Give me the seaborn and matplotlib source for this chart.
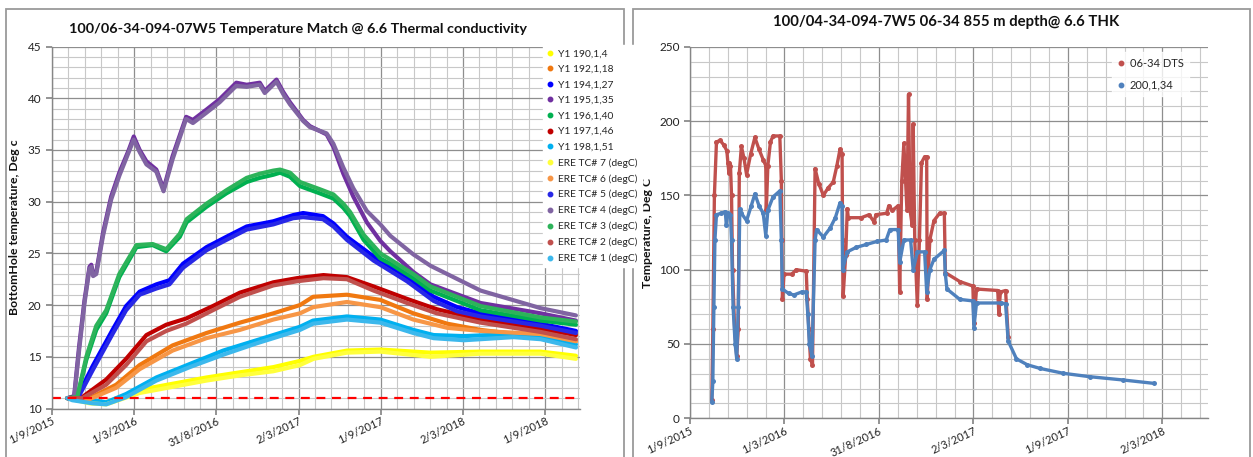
import numpy as np
import pandas as pd
import matplotlib
matplotlib.use("Agg")
import matplotlib.pyplot as plt
import seaborn as sns
from matplotlib.lines import Line2D

sns.set_theme(style="white")
plt.rcParams["font.family"] = ["Lato", "DejaVu Sans"]

# ---------------- LEFT CHART DATA (days since 1/9/2015, deg C) ----------------
left_title = "100/06-34-094-07W5 Temperature Match @ 6.6 Thermal conductivity"
left_ylabel = "BottomHole temperature, Deg c"
left_ticklabels = ["1/9/2015", "1/3/2016", "31/8/2016", "2/3/2017", "1/9/2017", "2/3/2018", "1/9/2018"]

purple_days = [34, 49, 60, 72, 83, 87, 91, 98, 113, 131, 149, 170, 181, 194, 209, 231, 247, 267, 297, 312,
               342, 371, 408, 431, 460, 471, 497, 512, 527, 556, 571, 608, 623, 645, 667, 697, 727, 749, 800, 838,
               949, 1082, 1160]
purple_y1 = [11.0, 11.2, 16.0, 20.5, 23.7, 23.9, 23.0, 23.2, 27.0, 30.5, 32.8, 35.0, 36.3, 35.0, 33.9, 33.1, 31.2, 34.4, 38.2, 37.9,
             38.9, 39.9, 41.5, 41.3, 41.5, 40.7, 41.8, 40.6, 39.6, 37.9, 37.3, 36.5, 35.3, 32.7, 30.5, 28.0, 26.2, 25.2, 23.2, 22.0,
             20.2, 19.2, 18.5]
purple_ere = [11.0, 11.0, 15.6, 20.2, 23.5, 23.7, 22.8, 23.0, 26.7, 30.2, 32.5, 34.8, 36.0, 34.8, 33.6, 32.9, 31.0, 34.1, 38.0, 37.6,
              38.6, 39.6, 41.2, 41.1, 41.3, 40.5, 41.6, 40.4, 39.4, 37.8, 37.2, 36.6, 35.6, 33.3, 31.3, 29.1, 27.8, 26.7, 24.9, 23.8,
              21.4, 19.7, 19.0]

green_days = [34, 56, 76, 98, 120, 149, 187, 223, 253, 283, 298, 342, 386, 431, 460, 490, 505, 527, 549, 593,
              623, 645, 660, 690, 727, 749, 800, 838, 949, 1082, 1160]
green_y1 = [11.0, 11.1, 14.7, 17.6, 19.2, 22.7, 25.6, 25.8, 25.2, 26.6, 28.0, 29.5, 30.8, 31.9, 32.3, 32.6, 32.8, 32.4, 31.5, 30.8,
            30.3, 29.4, 28.6, 26.3, 24.5, 24.0, 22.6, 21.4, 19.5, 18.5, 18.1]
green_ere = [11.0, 11.1, 15.0, 18.0, 19.5, 23.0, 25.8, 25.9, 25.4, 26.9, 28.3, 29.8, 31.1, 32.3, 32.7, 33.0, 33.1, 32.8, 31.9, 31.2,
             30.7, 29.8, 29.0, 26.8, 25.0, 24.4, 23.0, 21.8, 19.9, 18.8, 18.4]

blue_days = [34, 56, 90, 134, 164, 194, 231, 260, 290, 342, 386, 431, 490, 534, 556, 600, 623, 653, 712, 786,
             845, 897, 949, 1082, 1160]
blue_y1 = [11.0, 11.1, 14.1, 17.6, 19.9, 21.3, 22.0, 22.4, 24.0, 25.6, 26.6, 27.6, 28.1, 28.7, 28.9, 28.6, 27.9, 26.6, 24.7, 22.7,
           20.8, 19.8, 19.2, 18.2, 17.5]
blue_ere = [11.0, 10.9, 13.7, 17.2, 19.5, 21.0, 21.6, 22.0, 23.6, 25.3, 26.3, 27.3, 27.8, 28.4, 28.5, 28.3, 27.6, 26.3, 24.3, 22.3,
            20.4, 19.4, 18.9, 18.0, 17.3]

red_days = [34, 67, 120, 164, 209, 253, 297, 356, 416, 490, 542, 601, 653, 712, 786, 852, 949, 1082, 1160]
red_y1 = [11.0, 11.1, 12.8, 14.8, 17.1, 18.1, 18.7, 19.9, 21.2, 22.2, 22.6, 22.9, 22.7, 21.8, 20.6, 19.6, 18.6, 17.7, 17.1]
red_ere = [11.0, 11.0, 12.3, 14.2, 16.5, 17.5, 18.2, 19.5, 20.8, 21.9, 22.3, 22.6, 22.5, 21.4, 20.2, 19.2, 18.3, 17.4, 16.7]

orange_days = [34, 83, 142, 194, 267, 342, 416, 490, 549, 578, 653, 727, 800, 875, 949, 1082, 1160]
orange_y1 = [11.0, 11.0, 12.3, 14.2, 16.1, 17.3, 18.3, 19.2, 20.0, 20.8, 21.0, 20.5, 19.2, 18.2, 17.6, 16.9, 16.5]
orange_ere = [11.0, 10.9, 12.0, 13.8, 15.6, 16.8, 17.6, 18.6, 19.2, 19.8, 20.3, 19.8, 18.6, 17.8, 17.5, 17.2, 16.5]

lblue_days = [34, 45, 90, 120, 164, 231, 305, 379, 453, 549, 578, 653, 727, 800, 845, 912, 1022, 1082, 1160]
lblue_y1 = [11.0, 11.0, 10.8, 10.6, 11.4, 13.0, 14.3, 15.6, 16.6, 17.9, 18.5, 18.9, 18.6, 17.6, 17.1, 17.0, 17.2, 16.9, 16.2]
lblue_ere = [11.0, 10.8, 10.5, 10.4, 11.1, 12.7, 14.0, 15.2, 16.3, 17.6, 18.2, 18.6, 18.3, 17.3, 16.8, 16.6, 16.9, 16.7, 15.9]

yellow_days = [34, 83, 120, 194, 268, 342, 416, 490, 549, 579, 653, 727, 838, 949, 1082, 1160]
yellow_y1 = [11.0, 10.7, 10.6, 11.8, 12.4, 13.0, 13.5, 14.0, 14.6, 15.0, 15.6, 15.7, 15.4, 15.5, 15.5, 15.1]
yellow_ere = [11.0, 10.5, 10.4, 11.5, 12.1, 12.7, 13.2, 13.6, 14.2, 14.8, 15.4, 15.5, 15.0, 15.3, 15.3, 14.8]

reference_temp = 11.0

series_names = ["Y1 190,1,4", "Y1 192,1,18", "Y1 194,1,27", "Y1 195,1,35", "Y1 196,1,40", "Y1 197,1,46",
                "Y1 198,1,51", "ERE TC# 7 (degC)", "ERE TC# 6 (degC)", "ERE TC# 5 (degC)", "ERE TC# 4 (degC)",
                "ERE TC# 3 (degC)", "ERE TC# 2 (degC)", "ERE TC# 1 (degC)"]
series_colors = ["#FFFF00", "#F07810", "#0000FF", "#7030A0", "#00B050", "#C00000", "#00B0F0",
                 "#FFFF3C", "#F79646", "#2828E6", "#8064A2", "#2DB35A", "#C0504D", "#3CB8EC"]

# ---------------- RIGHT CHART DATA ----------------
right_title = "100/04-34-094-7W5 06-34 855 m depth@ 6.6 THK"
right_ylabel = "Temperature, Deg C"
right_ticklabels = ["1/9/2015", "1/3/2016", "31/8/2016", "2/3/2017", "1/9/2017", "2/3/2018"]

dts_days = [42, 44, 47, 51, 58, 65, 71, 73, 75, 76, 78, 80, 82, 86, 90, 93, 95, 99, 104, 109,
            117, 125, 133, 141, 146, 147, 150, 155, 160, 173, 176, 177, 178, 181, 196, 205, 224, 226, 229, 232,
            236, 241, 248, 257, 266, 276, 283, 289, 293, 294, 295, 300, 303, 305, 330, 345, 355, 358, 379, 383,
            390, 401, 404, 408, 412, 418, 421, 424, 428, 430, 433, 438, 442, 446, 452, 456, 457, 462, 470, 481,
            490, 492, 520, 545, 547, 552, 593, 595, 598, 608, 613]
dts_vals = [12, 60, 150, 186, 187, 184, 180, 172, 165, 172, 170, 150, 100, 60, 42, 60, 165, 183, 175, 164,
            178, 189, 181, 174, 170, 140, 170, 186, 190, 190, 160, 120, 80, 97, 97, 100, 99, 80, 60, 40,
            36, 168, 158, 150, 155, 159, 170, 181, 178, 120, 82, 110, 141, 135, 135, 137, 132, 137, 138, 143,
            140, 143, 85, 160, 185, 140, 218, 140, 130, 198, 120, 76, 120, 172, 176, 176, 80, 120, 133, 138,
            138, 98, 92, 89, 64, 87, 86, 70, 85, 86, 55]

sim_days = [42, 44, 46, 48, 51, 60, 68, 70, 73, 78, 80, 83, 87, 90, 93, 96, 99, 109, 118, 125,
            133, 141, 146, 150, 160, 173, 176, 178, 190, 200, 215, 224, 227, 230, 235, 241, 244, 257, 270, 280,
            289, 293, 294, 303, 320, 340, 360, 378, 385, 401, 404, 412, 425, 430, 438, 452, 456, 462, 470, 490,
            492, 495, 520, 545, 547, 552, 600, 608, 613, 629, 650, 674, 719, 770, 834, 894]
sim_vals = [11, 25, 75, 120, 137, 138, 139, 130, 138, 137, 120, 75, 50, 40, 75, 141, 138, 133, 143, 151,
            143, 138, 123, 140, 149, 153, 120, 87, 84, 83, 85, 85, 70, 50, 42, 120, 127, 122, 128, 135,
            145, 143, 100, 112, 115, 117, 119, 120, 127, 127, 105, 120, 120, 100, 112, 112, 85, 100, 107, 113,
            97, 87, 80, 79, 61, 77.6, 77.6, 77, 52, 40, 36, 33.6, 30.3, 28, 25.8, 23.5]

right_names = ["06-34 DTS", "200,1,34"]
right_colors = ["#C0504D", "#4F81BD"]

# ---------------- FIGURE ----------------
W, H = 1253, 457
fig = plt.figure(figsize=(W / 100, H / 100), dpi=100)
fig.patch.set_facecolor("white")

def fx(px):
    return px / W

def fy(py):
    return 1 - py / H

# chart-area frames
for x0, x1 in [(6, 624), (633, 1250)]:
    fig.add_artist(plt.Rectangle((fx(x0), -0.02), fx(x1 - x0), fy(9) + 0.02, transform=fig.transFigure,
                                 fill=False, edgecolor="#9A9A9A", linewidth=1.3))

GRID_MAJ = "#8E8E8E"
GRID_MIN = "#C8C8C8"
AX_COL = "#868686"

def style_axis(ax, xmax, nmaj, ymin, ymax, ymaj, ymin_step, xlabels):
    step = 182.0
    ax.set_xlim(0, xmax)
    ax.set_ylim(ymin, ymax)
    ax.set_xticks([k * step for k in range(nmaj)])
    ax.set_xticklabels(xlabels, rotation=25, ha="right", rotation_mode="anchor", fontsize=8, color="#222222")
    minors = [k * step / 5 for k in range(int(xmax / (step / 5)) + 1)]
    ax.set_xticks(minors, minor=True)
    ax.set_yticks(np.arange(ymin, ymax + 0.1, ymaj))
    ax.set_yticks(np.arange(ymin, ymax + 0.1, ymin_step), minor=True)
    ax.tick_params(axis="y", labelsize=8.5, colors="#222222", length=4, color=AX_COL, direction="out", left=True)
    ax.tick_params(axis="x", length=4, color=AX_COL, direction="out", bottom=True, pad=1)
    ax.tick_params(which="minor", length=0)
    ax.grid(which="major", color=GRID_MAJ, linewidth=0.9)
    ax.grid(which="minor", color=GRID_MIN, linewidth=0.8)
    ax.set_axisbelow(True)
    for s in ["top", "right"]:
        ax.spines[s].set_visible(False)
    for s in ["left", "bottom"]:
        ax.spines[s].set_color(AX_COL)
        ax.spines[s].set_linewidth(1.0)
    ax.set_facecolor("white")

# ---------------- LEFT ----------------
axL = fig.add_axes([fx(52), fy(408.5), fx(580 - 52), fy(46.5) - fy(408.5)])
groups = [(yellow_days, yellow_y1, yellow_ere), (orange_days, orange_y1, orange_ere),
          (blue_days, blue_y1, blue_ere), (purple_days, purple_y1, purple_ere),
          (green_days, green_y1, green_ere), (red_days, red_y1, red_ere),
          (lblue_days, lblue_y1, lblue_ere)]
frames = []
for i, (d, y1, ere) in enumerate(groups):
    frames.append(pd.DataFrame({"day": d, "temp": y1, "series": series_names[i]}))
for i, (d, y1, ere) in enumerate(groups):
    frames.append(pd.DataFrame({"day": d, "temp": ere, "series": series_names[7 + i]}))
dfL = pd.concat(frames, ignore_index=True)
palL = dict(zip(series_names, series_colors))
sns.lineplot(data=dfL, x="day", y="temp", hue="series", hue_order=series_names, palette=palL,
             sort=False, estimator=None, linewidth=3.0, legend=False, ax=axL)
axL.axhline(reference_temp, color="#FF0000", linewidth=1.6, linestyle=(0, (4, 3)))
style_axis(axL, 1169, 7, 10, 45, 5, 1, left_ticklabels)
axL.set_xlabel("")
axL.set_ylabel(left_ylabel, fontsize=8.8, fontweight="bold", color="#111111")
axL.yaxis.set_label_coords(-0.06, 0.5)
fig.text(fx(298), fy(29), left_title, ha="center", va="center", fontsize=10.4, fontweight="bold", color="#111111")

handlesL = [Line2D([], [], marker="o", linestyle="", markersize=3.2, markerfacecolor=c, markeredgecolor=c)
            for c in series_colors]
legL = fig.legend(handlesL, series_names, loc="upper left", bbox_to_anchor=(fx(543), fy(45)),
                  bbox_transform=fig.transFigure, frameon=True, fontsize=7.4, labelspacing=0.62,
                  handlelength=0.6, handletextpad=0.5, borderpad=0.4, borderaxespad=0)
legL.get_frame().set_facecolor("white")
legL.get_frame().set_edgecolor("white")
legL.get_frame().set_alpha(1)

# ---------------- RIGHT ----------------
axR = fig.add_axes([fx(690), fy(418.3), fx(1208 - 690), fy(46.8) - fy(418.3)])
dfR = pd.concat([pd.DataFrame({"day": dts_days, "temp": dts_vals, "series": right_names[0]}),
                 pd.DataFrame({"day": sim_days, "temp": sim_vals, "series": right_names[1]})],
                ignore_index=True)
sns.lineplot(data=dfR, x="day", y="temp", hue="series", hue_order=right_names,
             palette=dict(zip(right_names, right_colors)), sort=False, estimator=None,
             linewidth=2.4, marker="o", markersize=3.6, markeredgewidth=0, legend=False, ax=axR)
style_axis(axR, 998, 6, 0, 250, 50, 10, right_ticklabels)
axR.set_xlabel("")
axR.set_ylabel(right_ylabel, fontsize=8.8, fontweight="bold", color="#111111")
axR.yaxis.set_label_coords(-0.072, 0.5)
fig.text(fx(946), fy(22), right_title, ha="center", va="center", fontsize=10.7, fontweight="bold", color="#111111")

handlesR = [Line2D([], [], marker="o", linestyle="", markersize=3.2, markerfacecolor=c, markeredgecolor=c)
            for c in right_colors]
legR = fig.legend(handlesR, right_names, loc="upper left", bbox_to_anchor=(fx(1112), fy(52)),
                  bbox_transform=fig.transFigure, frameon=True, fontsize=8, labelspacing=1.0,
                  handlelength=0.6, handletextpad=0.5, borderpad=0.5, borderaxespad=0)
legR.get_frame().set_facecolor("white")
legR.get_frame().set_edgecolor("white")

fig.savefig("out.png", dpi=100, facecolor="white")
